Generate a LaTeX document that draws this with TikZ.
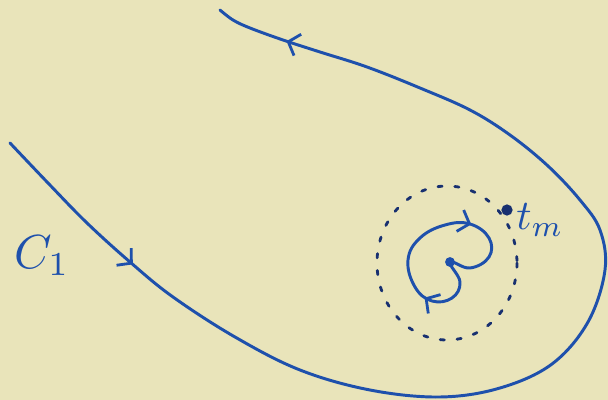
\documentclass[tikz,border=0pt]{standalone}
\usetikzlibrary{arrows.meta,decorations.markings}
\definecolor{paper}{RGB}{233,228,186}
\definecolor{ink}{RGB}{30,80,172}
\definecolor{darkink}{RGB}{24,48,112}
\begin{document}
\begin{tikzpicture}[x=0.025cm,y=-0.025cm,
  pen/.style={ink, line width=2.1pt, line cap=round, line join=round},
  barb/.tip={Straight Barb[length=7pt,width=16pt,line width=2pt]},
  dotnode/.style={circle, fill=darkink, inner sep=0pt, minimum size=8pt},
  lbl/.style={ink, inner sep=0pt}]
\fill[paper] (0,0) rectangle (608,400);
\useasboundingbox (0,0) rectangle (608,400);
\node[dotnode] (tm) at (507,210) {};
\node[dotnode, fill=ink, minimum size=7pt] (pole) at (450,262) {};
\node[lbl, scale=3.4] (clabel) at (42,256) {$C_1$};
\node[lbl, scale=3] (tmlabel) at (540,220) {$t_m$};
\draw[darkink, line width=2pt, line cap=round, dash pattern=on 3pt off 9pt]
  (447,263) ellipse [x radius=70, y radius=77];
\draw[pen, postaction={decorate, decoration={markings,
    mark=at position 0.14 with {\arrow{barb}},
    mark=at position 0.94 with {\arrow{barb}}}}]
  plot[smooth, tension=0.6] coordinates {(10,143) (48,183) (87,223)
    (130,262) (173,297) (235,337) (300,370) (370,390) (440,397)
    (500,388) (552,364) (588,322) (605,270) (600,230) (580,200)
    (548,166) (510,135) (470,110) (420,88) (367,67) (320,52)
    (283,40) (250,28) (233,20) (220,10)};
\draw[pen, postaction={decorate, decoration={markings,
    mark=at position 0.17 with {\arrow{barb}},
    mark=at position 0.61 with {\arrow{barb}}}}]
  plot[smooth cycle, tension=0.7] coordinates {(pole.center) (460,282)
    (452,298) (432,301) (415,287) (408,260) (420,238) (445,225)
    (470,224) (489,238) (489,257) (470,268)};
\end{tikzpicture}
\end{document}
